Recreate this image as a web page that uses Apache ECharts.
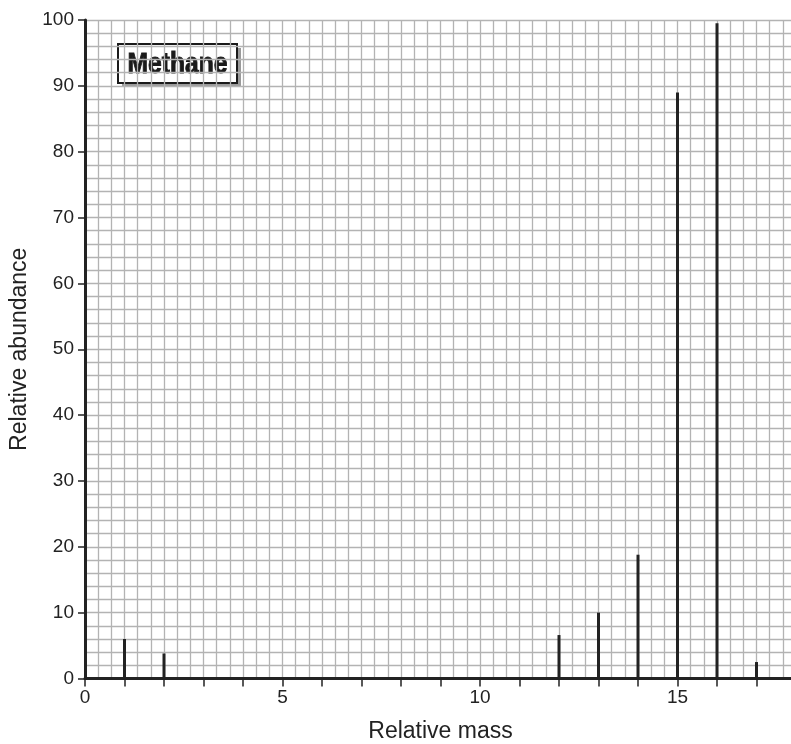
<!DOCTYPE html>
<html>
<head>
<meta charset="utf-8">
<script src="https://cdn.jsdelivr.net/npm/echarts@6/dist/echarts.min.js"></script>
<style>
  html, body { margin: 0; padding: 0; background: #fff; }
  #chart { width: 791px; height: 744px; }
</style>
</head>
<body>
<div id="chart"></div>
<script>
// relative mass of each fragment and its relative abundance
const masses = [1, 2, 12, 13, 14, 15, 16, 17]
const abundance = [6, 3.8, 6.6, 10, 18.8, 89, 99.5, 2.5]
const xLabels = [0, 5, 10, 15]
const title = 'Methane'

const chart = echarts.init(document.getElementById('chart'))

const gridLine = { show: true, lineStyle: { color: '#b3b3b3', width: 1.3 } }

chart.setOption({
    animation: false,
    grid: { left: 85, top: 20, right: -5, bottom: 65.5, outerBoundsMode: 'none' },
    xAxis: {
        type: 'value',
        min: 0,
        max: 18,
        interval: 1,
        name: 'Relative mass',
        nameLocation: 'middle',
        nameGap: 42,
        nameTextStyle: { fontFamily: 'Liberation Sans', fontSize: 23, color: '#222' },
        axisLine: { show: true, onZero: false, lineStyle: { color: '#222', width: 3 } },
        axisTick: { show: true, length: 8, lineStyle: { color: '#222', width: 1.5 } },
        axisLabel: {
            margin: 10,
            fontFamily: 'Liberation Sans',
            fontSize: 19,
            color: '#222',
            formatter: v => xLabels.includes(v) ? String(v) : ''
        },
        splitLine: gridLine,
        minorTick: { show: false, splitNumber: 3 },
        minorSplitLine: gridLine
    },
    yAxis: {
        type: 'value',
        min: 0,
        max: 100,
        interval: 10,
        name: 'Relative abundance',
        nameLocation: 'middle',
        nameGap: 52,
        nameTextStyle: { fontFamily: 'Liberation Sans', fontSize: 23, color: '#222' },
        axisLine: { show: true, lineStyle: { color: '#222', width: 3 } },
        axisTick: { show: true, length: 7, lineStyle: { color: '#222', width: 1.5 } },
        axisLabel: { margin: 11, fontFamily: 'Liberation Sans', fontSize: 19, color: '#222' },
        splitLine: gridLine,
        minorTick: { show: false, splitNumber: 5 },
        minorSplitLine: gridLine
    },
    series: [{
        type: 'bar',
        barWidth: 3,
        itemStyle: { color: '#222' },
        data: masses.map((m, i) => [m, abundance[i]]),
        z: 5
    }],
    graphic: [{
        type: 'group',
        left: 117,
        top: 43,
        children: [{
            // drop shadow
            type: 'rect',
            shape: { x: 4, y: 4, width: 119, height: 39 },
            style: { fill: '#9a9a9a' }
        }, {
            type: 'rect',
            shape: { x: 0, y: 0, width: 119, height: 39 },
            style: { fill: '#fff', stroke: '#1a1a1a', lineWidth: 2 }
        }, {
            type: 'text',
            x: 59.5,
            y: 21,
            scaleX: 0.82,
            style: {
                text: title,
                fontFamily: 'Liberation Sans',
                fontWeight: 'bold',
                fontSize: 30,
                fill: '#1a1a1a',
                stroke: '#1a1a1a',
                lineWidth: 1,
                align: 'center',
                verticalAlign: 'middle'
            }
        }]
    }]
})
</script>
</body>
</html>
